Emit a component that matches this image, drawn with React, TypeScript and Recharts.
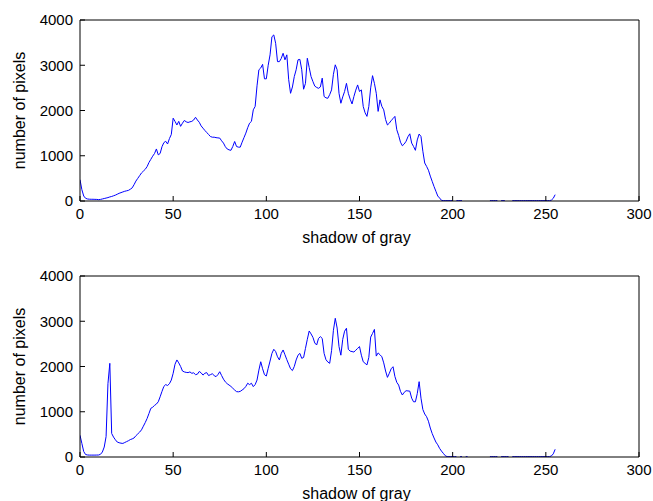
import React from 'react';
import { LineChart, Line, XAxis, YAxis, Label } from 'recharts';

const grayLevels: number[] = Array.from({ length: 256 }, (_, i) => i);

const xTicks = [0, 50, 100, 150, 200, 250, 300];
const yTicks = [0, 1000, 2000, 3000, 4000];

const N = null;

// histogram of the first image (top panel)
const topCounts: (number | null)[] = [
  470, 250, 110, 60, 45, 40, 38, 38, 36, 35,
  30, 35, 45, 55, 65, 75, 90, 100, 115, 130,
  150, 170, 185, 200, 215, 225, 235, 260, 290, 360,
  440, 500, 560, 620, 660, 700, 760, 850, 920, 990,
  1050, 1150, 1020, 1050, 1200, 1290, 1320, 1260, 1380, 1470,
  1830, 1760, 1680, 1760, 1650, 1720, 1780, 1750, 1735, 1750,
  1760, 1790, 1850, 1790, 1740, 1660, 1610, 1560, 1515, 1470,
  1425, 1410, 1410, 1400, 1395, 1390, 1330, 1280, 1200, 1150,
  1130, 1120, 1205, 1315, 1205, 1190, 1190, 1300, 1400, 1500,
  1620, 1720, 1760, 2015, 2090, 2545, 2900, 2940, 3020, 2700,
  2700, 3000, 3230, 3630, 3670, 3485, 3080, 3080, 3150, 3265,
  3120, 3230, 2680, 2380, 2520, 2750, 2900, 3120, 3130, 2900,
  2470, 2600, 3155, 2950, 2750, 2640, 2540, 2510, 2490, 2520,
  2715, 2310, 2280, 2270, 2350, 2455, 2800, 3010, 2900, 2380,
  2160, 2300, 2420, 2600, 2380, 2250, 2145, 2310, 2450, 2565,
  2420, 2455, 2090, 1950, 1870, 2090, 2500, 2770, 2600, 2380,
  1980, 2235, 2090, 2015, 1800, 1680, 1720, 1780, 1820, 1870,
  1575, 1450, 1300, 1220, 1260, 1320, 1420, 1485, 1280, 1205,
  1120, 1350, 1480, 1425, 1100, 840, 765, 680, 550, 435,
  320, 215, 110, 65, 15, 8, 8, 8, 8, 8,
  8, N, 8, 8, 8, 8, N, N, N, N,
  N, N, N, N, N, N, N, N, N, N,
  8, 8, 8, 8, 8, N, 8, 8, 8, N,
  N, N, 8, 8, 8, 8, 8, 8, 8, 8,
  8, 8, 8, 8, 8, 8, 8, 8, 8, 8,
  8, 8, 8, 20, 60, 140,
];

// histogram of the second image (bottom panel)
const bottomCounts: (number | null)[] = [
  480, 300, 120, 55, 45, 42, 42, 42, 42, 43,
  44, 60, 110, 220, 450, 1620, 2070, 520, 440, 380,
  330, 315, 305, 300, 320, 340, 360, 385, 400, 420,
  470, 510, 550, 600, 680, 760, 850, 960, 1075, 1100,
  1140, 1170, 1220, 1330, 1450, 1560, 1600, 1580, 1620, 1700,
  1850, 2050, 2145, 2080, 2000, 1900, 1880, 1870, 1865, 1880,
  1850, 1860, 1820, 1830, 1890, 1860, 1810, 1850, 1865, 1800,
  1820, 1840, 1800, 1775, 1820, 1885, 1800, 1720, 1660, 1620,
  1590, 1560, 1520, 1480, 1445, 1440, 1450, 1480, 1510, 1560,
  1630, 1600, 1630, 1555, 1600, 1700, 1920, 2105, 1950, 1820,
  1790, 1960, 2120, 2290, 2380, 2330, 2215, 2145, 2290, 2365,
  2260, 2150, 2050, 1950, 1910, 2000, 2145, 2250, 2290, 2180,
  2200, 2400, 2600, 2785, 2720, 2645, 2520, 2475, 2620, 2660,
  2620, 2290, 2150, 2100, 2070, 2350, 2800, 3065, 2850, 2440,
  2250, 2600, 2780, 2845, 2380, 2340, 2330, 2320, 2360, 2400,
  2440, 2250, 2105, 2070, 2035, 2200, 2650, 2730, 2820, 2230,
  2300, 2260, 2215, 2080, 1900, 1760, 1850, 1950, 1995, 1780,
  1650, 1590, 1450, 1370, 1430, 1465, 1460, 1455, 1300, 1220,
  1220, 1400, 1665, 1300, 1050, 950, 890, 790, 640, 520,
  420, 330, 270, 190, 130, 80, 30, 8, 8, 8,
  8, 8, 8, N, 8, 8, N, 8, 8, N,
  N, N, N, N, N, N, N, N, N, N,
  8, 8, 8, 8, 8, N, 8, 8, 8, 8,
  8, N, 8, 8, 8, 8, 8, 8, 8, 8,
  8, 8, 8, 8, 8, 8, 8, 8, 8, 8,
  8, 8, 8, 25, 70, 170,
];

const xLabelText = 'shadow of gray';
const yLabelText = 'number of pixels';

const FONT = 'Arial, "Liberation Sans", sans-serif';
const tickStyle = { fill: '#000', fontSize: 15, fontFamily: FONT };

function buildRows(values: (number | null)[]) {
  return grayLevels.map((g, i) => ({ g, v: values[i] }));
}

function Panel({ values }: { values: (number | null)[] }) {
  const data = buildRows(values);
  return (
    <LineChart
      width={653}
      height={250}
      data={data}
      margin={{ top: 19, right: 13, left: 0, bottom: 4 }}
    >
      <XAxis
        dataKey="g"
        type="number"
        domain={[0, 300]}
        ticks={xTicks}
        interval={0}
        height={45}
        tickSize={-5}
        tickMargin={12}
        tick={tickStyle}
        axisLine={{ stroke: '#000' }}
        tickLine={{ stroke: '#000' }}
        allowDataOverflow
      >
        <Label
          content={(props: any) => {
            const vb = props.viewBox || {};
            return (
              <text
                x={vb.x + vb.width / 2 - 3}
                y={vb.y + 42}
                textAnchor="middle"
                fontSize={16}
                fontFamily={FONT}
                fill="#000"
              >
                {xLabelText}
              </text>
            );
          }}
        />
      </XAxis>
      <XAxis
        xAxisId="top"
        dataKey="g"
        orientation="top"
        type="number"
        domain={[0, 300]}
        ticks={xTicks}
        interval={0}
        height={1}
        tickSize={-5}
        tick={false}
        axisLine={{ stroke: '#000' }}
        tickLine={{ stroke: '#000' }}
        allowDataOverflow
      />
      <YAxis
        type="number"
        domain={[0, 4000]}
        ticks={yTicks}
        interval={0}
        width={80}
        tickSize={-5}
        tickMargin={12}
        tick={tickStyle}
        axisLine={{ stroke: '#000' }}
        tickLine={{ stroke: '#000' }}
        allowDataOverflow
      >
        <Label
          content={(props: any) => {
            const vb = props.viewBox || {};
            const cx = 25;
            const cy = vb.y + vb.height / 2;
            return (
              <text
                x={cx}
                y={cy}
                transform={`rotate(-90, ${cx}, ${cy})`}
                textAnchor="middle"
                fontSize={16}
                fontFamily={FONT}
                fill="#000"
              >
                {yLabelText}
              </text>
            );
          }}
        />
      </YAxis>
      <YAxis
        yAxisId="right"
        orientation="right"
        type="number"
        domain={[0, 4000]}
        ticks={yTicks}
        interval={0}
        width={1}
        tickSize={-5}
        tick={false}
        axisLine={{ stroke: '#000' }}
        tickLine={{ stroke: '#000' }}
        allowDataOverflow
      />
      <Line
        xAxisId="top"
        yAxisId="right"
        dataKey="v"
        type="linear"
        stroke="none"
        strokeOpacity={0}
        dot={false}
        activeDot={false}
        legendType="none"
        isAnimationActive={false}
      />
      <Line
        dataKey="v"
        type="linear"
        stroke="#0000ff"
        strokeWidth={1}
        dot={false}
        activeDot={false}
        connectNulls={false}
        isAnimationActive={false}
      />
    </LineChart>
  );
}

export default function App() {
  return (
    <div
      style={{
        position: 'absolute',
        left: 0,
        top: 0,
        width: 653,
        height: 501,
        overflow: 'hidden',
        background: '#fff',
      }}
    >
      <div style={{ position: 'absolute', left: 0, top: 0 }}>
        <Panel values={topCounts} />
      </div>
      <div style={{ position: 'absolute', left: 0, top: 256 }}>
        <Panel values={bottomCounts} />
      </div>
    </div>
  );
}
